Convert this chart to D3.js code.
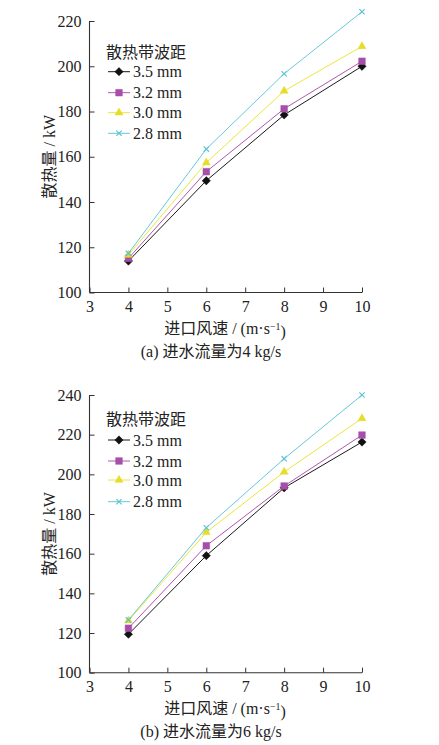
<!DOCTYPE html>
<html>
<head>
<meta charset="utf-8">
<script src="https://cdn.jsdelivr.net/npm/d3@7"></script>
<style>
  body { margin: 0; background: #fff; }
  text { font-family: "Liberation Serif", "Noto Sans CJK SC", serif; fill: #222; }
</style>
</head>
<body>
<svg id="chart"></svg>
<script>
// wind speed (m/s)
const speeds = [4, 6, 8, 10];
const xTicks = [3, 4, 5, 6, 7, 8, 9, 10];

const seriesNames = ["3.5 mm", "3.2 mm", "3.0 mm", "2.8 mm"];
const legendTitle = "散热带波距";

// (a) water flow 4 kg/s
const a35 = [113.9, 149.4, 178.5, 200.0];
const a32 = [115.1, 153.4, 181.2, 202.2];
const a30 = [116.6, 157.4, 189.1, 208.8];
const a28 = [117.3, 163.4, 196.7, 224.1];
const aTicks = [100, 120, 140, 160, 180, 200, 220];

// (b) water flow 6 kg/s
const b35 = [119.4, 159.0, 193.2, 216.3];
const b32 = [122.4, 164.0, 194.1, 219.8];
const b30 = [126.2, 170.8, 201.2, 228.2];
const b28 = [126.6, 173.1, 207.9, 240.0];
const bTicks = [100, 120, 140, 160, 180, 200, 220, 240];

const colors = ["#1a1a1a", "#b057b0", "#ede63a", "#66c9d9"];
const markerColors = ["#111", "#a64fa8", "#e6dc2a", "#5cc3d6"];
const symbols = [d3.symbolDiamond2, d3.symbolSquare, d3.symbolTriangle, d3.symbolTimes];
const symSizes = [44, 44, 28, 20];

const w = 439;
const h = 745;

const svg = d3.select("#chart")
  .attr("width", w)
  .attr("height", h);

const drawPanel = (cfg) => {
  const xScale = d3.scaleLinear().domain([3, 10]).range([89.5, 362]);
  const yScale = d3.scaleLinear().domain(cfg.yDomain).range([cfg.bottom, cfg.top]);

  const g = svg.append("g");

  const xAxis = d3.axisBottom(xScale).tickValues(xTicks).tickSize(-5).tickPadding(8).tickFormat(d3.format("d"));
  const yAxis = d3.axisLeft(yScale).tickValues(cfg.yTicks).tickSize(-5).tickPadding(8);

  const gx = g.append("g")
    .attr("transform", "translate(0," + cfg.bottom + ")")
    .call(xAxis);
  const gy = g.append("g")
    .attr("transform", "translate(89.5,0)")
    .call(yAxis);

  [gx, gy].forEach(ax => {
    ax.select(".domain").attr("stroke", "#333").attr("stroke-width", 1.1);
    ax.selectAll(".tick line").attr("stroke", "#333").attr("stroke-width", 1);
    ax.selectAll(".tick text").style("font-size", "16px").attr("fill", "#222");
  });
  gx.select(".domain").attr("d", "M89.5,0H362");
  gy.select(".domain").attr("d", "M0," + cfg.top + "V" + cfg.bottom);

  const line = d3.line()
    .x((d, i) => xScale(speeds[i]))
    .y(d => yScale(d));

  cfg.series.forEach((vals, s) => {
    g.append("path")
      .datum(vals)
      .attr("d", line)
      .attr("fill", "none")
      .attr("stroke", colors[s])
      .attr("stroke-width", 1);

    g.selectAll(".m" + s)
      .data(vals)
      .join("path")
      .attr("class", "m" + s)
      .attr("transform", (d, i) => "translate(" + xScale(speeds[i]) + "," + yScale(d) + ")")
      .attr("d", d3.symbol().type(symbols[s]).size(symSizes[s]))
      .attr("fill", s === 3 ? "none" : markerColors[s])
      .attr("stroke", markerColors[s])
      .attr("stroke-width", s === 3 ? 1.2 : 0.5);
  });

  // legend
  const lg = g.append("g");
  lg.append("text")
    .attr("x", 106)
    .attr("y", cfg.legendTop)
    .attr("dy", "0.35em")
    .style("font-size", "16px")
    .text(legendTitle);

  seriesNames.forEach((name, s) => {
    const yy = cfg.legendRows[s];
    lg.append("line")
      .attr("x1", 108).attr("x2", 130)
      .attr("y1", yy).attr("y2", yy)
      .attr("stroke", colors[s])
      .attr("stroke-width", 1);
    lg.append("path")
      .attr("transform", "translate(119," + yy + ")")
      .attr("d", d3.symbol().type(symbols[s]).size(symSizes[s]))
      .attr("fill", s === 3 ? "none" : markerColors[s])
      .attr("stroke", markerColors[s])
      .attr("stroke-width", s === 3 ? 1.2 : 0.5);
    lg.append("text")
      .attr("x", 133)
      .attr("y", yy)
      .attr("dy", "0.35em")
      .style("font-size", "16px")
      .text(name);
  });

  // axis titles
  g.append("text")
    .attr("transform", "translate(49," + ((cfg.top + cfg.bottom) / 2) + ") rotate(-90)")
    .attr("text-anchor", "middle")
    .attr("dy", "0.35em")
    .style("font-size", "16px")
    .text("散热量 / kW");

  const xt = g.append("text")
    .attr("x", 225)
    .attr("y", cfg.bottom + 36)
    .attr("text-anchor", "middle")
    .attr("dy", "0.35em")
    .style("font-size", "16px");
  xt.append("tspan").text("进口风速 / (m·s");
  xt.append("tspan").attr("dy", "-0.45em").style("font-size", "10px").text("−1");
  xt.append("tspan").attr("dy", "0.45em").text(")");

  g.append("text")
    .attr("x", 211)
    .attr("y", cfg.bottom + 59)
    .attr("text-anchor", "middle")
    .attr("dy", "0.35em")
    .style("font-size", "16px")
    .text(cfg.caption);
};

drawPanel({
  yDomain: [100, 220], yTicks: aTicks, top: 21, bottom: 292.5,
  series: [a35, a32, a30, a28],
  legendTop: 52, legendRows: [71.7, 92.7, 112.7, 133.3],
  caption: "(a) 进水流量为4 kg/s"
});

drawPanel({
  yDomain: [100, 240], yTicks: bTicks, top: 395, bottom: 672.7,
  series: [b35, b32, b30, b28],
  legendTop: 419, legendRows: [440, 461, 480, 501.7],
  caption: "(b) 进水流量为6 kg/s"
});
</script>
</body>
</html>
